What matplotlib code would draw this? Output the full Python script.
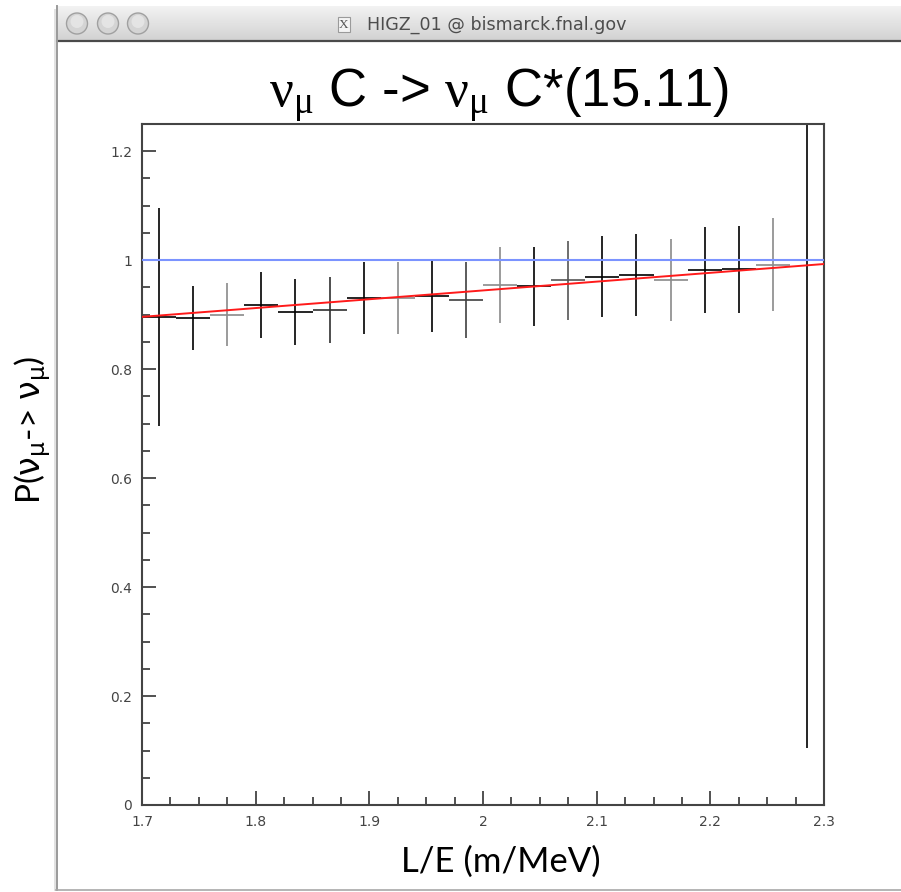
import numpy as np
import matplotlib.pyplot as plt
from matplotlib.patches import Circle, Rectangle
from matplotlib.colors import LinearSegmentedColormap
from matplotlib.ticker import MultipleLocator

# measured survival probability per L/E bin
bin_x = [1.715, 1.745, 1.775, 1.805, 1.835, 1.865, 1.895, 1.925, 1.955, 1.985,
         2.015, 2.045, 2.075, 2.105, 2.135, 2.165, 2.195, 2.225, 2.255, 2.285]
prob = [0.896, 0.894, 0.900, 0.918, 0.905, 0.909, 0.930, 0.931, 0.934, 0.927,
        0.955, 0.952, 0.963, 0.970, 0.973, 0.964, 0.982, 0.983, 0.992, 1.000]
prob_err = [0.200, 0.058, 0.058, 0.060, 0.060, 0.061, 0.066, 0.066, 0.066, 0.069,
            0.070, 0.072, 0.072, 0.074, 0.076, 0.075, 0.079, 0.080, 0.085, 0.895]
bin_width = 0.03

# fit curve and no-oscillation reference
fit_x = [1.70, 2.30]
fit_y = [0.896, 0.993]
no_osc = 1.0

# screen-capture shading of the bars (some come out grey)
shade = ['k', 'k', '#8a8a8a', 'k', 'k', '#303030', 'k', '#8a8a8a', 'k', '#404040',
         '#8a8a8a', 'k', '#555555', 'k', 'k', '#8a8a8a', 'k', 'k', '#8a8a8a', 'k']

plt.rcParams['mathtext.fontset'] = 'custom'
plt.rcParams['mathtext.rm'] = 'Liberation Serif'
plt.rcParams['mathtext.it'] = 'Liberation Serif'

W, H = 901, 892
fig = plt.figure(figsize=(W / 100, H / 100), dpi=100)
fig.patch.set_facecolor('white')

# window chrome
bg = fig.add_axes([0, 0, 1, 1])
bg.axis('off')
grad = LinearSegmentedColormap.from_list('bar', ['#f3f3f3', '#d2d2d2'])
bg.imshow(np.linspace(0, 1, 60).reshape(-1, 1), cmap=grad, extent=(56, W, 40, 6), aspect='auto')
bg.plot([56, W], [40.5, 40.5], color='#4a4a4a', lw=1.6)
bg.plot([56.5, 56.5], [6, 890], color='#9a9a9a', lw=1.4)
bg.plot([54.5, 54.5], [10, 890], color='#e2e2e2', lw=1.4)
bg.plot([56, W], [889.5, 889.5], color='#a8a8a8', lw=1.2)
for cx in [77, 108, 138]:
    bg.add_patch(Circle((cx, 23.5), 10.5, fc='#d4d4d4', ec='#a0a0a0', lw=1.0))
    bg.add_patch(Circle((cx, 21.5), 6.5, fc='#e4e4e4', ec='none'))
bg.add_patch(Rectangle((338, 17), 12, 15, fc='#f4f4f4', ec='#9a9a9a', lw=0.8))
bg.text(344, 25, 'X', ha='center', va='center', fontsize=9.5, color='#555555',
        family='Liberation Serif')
bg.text(367, 25, 'HIGZ_01 @ bismarck.fnal.gov', ha='left', va='center',
        fontsize=12.6, color='#4d4d4d', family='DejaVu Sans')
bg.set_xlim(0, W)
bg.set_ylim(H, 0)

# main plot
ax = fig.add_axes([142 / W, 1 - 805 / H, (824 - 142) / W, (805 - 124) / H])
ax.set_facecolor('white')

lo = np.array(prob) - np.array(prob_err)
hi = np.array(prob) + np.array(prob_err)
ax.vlines(bin_x, lo, hi, colors=shade, lw=1.2, zorder=2)
ax.hlines(prob, np.array(bin_x) - bin_width / 2, np.array(bin_x) + bin_width / 2,
          colors=shade, lw=1.2, zorder=2)
ax.axhline(no_osc, color='#7b93ff', lw=1.5, zorder=3)
ax.plot(fit_x, fit_y, color='#ff1a1a', lw=1.4, zorder=4)

ax.set_xlim(1.7, 2.3)
ax.set_ylim(0, 1.25)
ax.xaxis.set_minor_locator(MultipleLocator(0.025))
ax.yaxis.set_minor_locator(MultipleLocator(0.05))
ax.set_xticks([1.7, 1.8, 1.9, 2.0, 2.1, 2.2, 2.3])
ax.set_xticklabels(['1.7', '1.8', '1.9', '2', '2.1', '2.2', '2.3'])
ax.set_yticks([0, 0.2, 0.4, 0.6, 0.8, 1.0, 1.2])
ax.set_yticklabels(['0', '0.2', '0.4', '0.6', '0.8', '1', '1.2'])
ax.tick_params(which='both', direction='in', top=False, right=False,
               color='#333333', width=1.2, labelsize=10, labelcolor='#444444')
ax.tick_params(which='major', length=10, pad=7)
ax.tick_params(which='minor', length=6)
for s in ax.spines.values():
    s.set_color('#444444')
    s.set_linewidth(1.5)

fig.text(499 / W, 1 - 107 / H,
         r'$\mathrm{\nu_{\mu}}$ C -> $\mathrm{\nu_{\mu}}$ C*(15.11)',
         ha='center', va='baseline', fontsize=38, family='Liberation Sans',
         math_fontfamily='custom')
fig.text(501 / W, 1 - 862 / H, 'L/E (m/MeV)', ha='center', va='center',
         fontsize=25, family='Lato')
fig.text(33 / W, 1 - 430 / H, r'P($\mathrm{\nu_{\mu}}$-> $\mathrm{\nu_{\mu}}$)',
         ha='center', va='center', rotation=90, fontsize=24, family='Lato',
         math_fontfamily='dejavusans')

fig.savefig('out.png', dpi=100)
